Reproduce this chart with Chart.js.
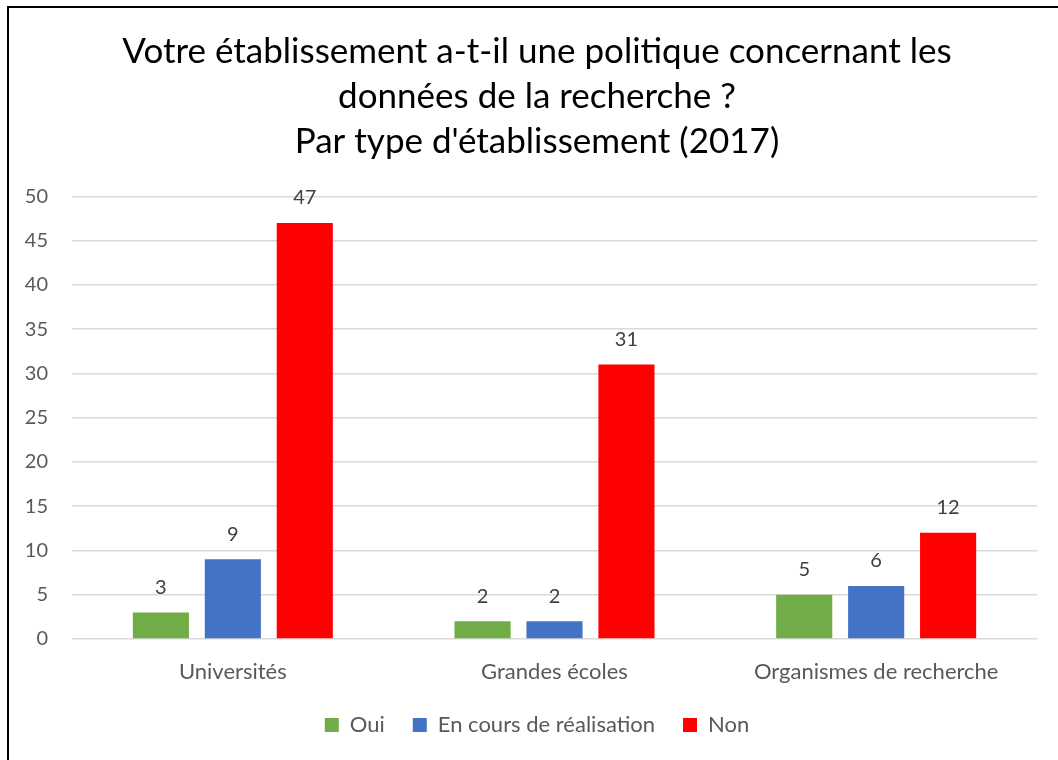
<!DOCTYPE html>
<html>
<head>
<meta charset="utf-8">
<script src="https://cdn.jsdelivr.net/npm/chart.js@4/dist/chart.umd.min.js"></script>
<style>
  html, body { margin: 0; padding: 0; background: #ffffff; }
  #wrap { position: relative; width: 1058px; height: 760px; overflow: hidden; }
  #frame {
    position: absolute; left: 7px; top: 6px; width: 1100px; height: 800px;
    border-left: 2px solid #000; border-top: 2px solid #000; pointer-events: none;
  }
</style>
</head>
<body>
<div id="wrap"><canvas id="c"></canvas><div id="frame"></div></div>
<script>
// Institution types on the x axis
const categories = ['Universités', 'Grandes écoles', 'Organismes de recherche'];
// Answers per institution type
const seriesNames = ['Oui', 'En cours de réalisation', 'Non'];
const oui = [3, 2, 5];
const enCours = [9, 2, 6];
const non = [47, 31, 12];
// Value axis
const yMin = 0;
const yMax = 50;
const yStep = 5;
const titleLines = [
  'Votre établissement a-t-il une politique concernant les',
  'données de la recherche ?',
  "Par type d'établissement (2017)"
];

const FONT = 'Lato';

// Writes each bar's value above it
const valueLabels = {
  id: 'valueLabels',
  afterDatasetsDraw(chart) {
    const ctx = chart.ctx;
    ctx.save();
    ctx.font = `20px ${FONT}`;
    ctx.fillStyle = '#404040';
    ctx.textAlign = 'center';
    ctx.textBaseline = 'middle';
    chart.data.datasets.forEach((ds, di) => {
      const meta = chart.getDatasetMeta(di);
      meta.data.forEach((bar, i) => {
        ctx.fillText(String(ds.data[i]), bar.x, bar.y - 25);
      });
    });
    ctx.restore();
  }
};

new Chart(document.getElementById('c'), {
  type: 'bar',
  data: {
    labels: categories,
    datasets: [
      { label: seriesNames[0], data: oui, backgroundColor: '#70AD47' },
      { label: seriesNames[1], data: enCours, backgroundColor: '#4472C4' },
      { label: seriesNames[2], data: non, backgroundColor: '#FF0000' }
    ]
  },
  options: {
    responsive: true,
    maintainAspectRatio: false,
    animation: false,
    datasets: { bar: { categoryPercentage: 0.671, barPercentage: 0.78 } },
    layout: { padding: { left: 16, right: 0, top: 0, bottom: 14 } },
    plugins: {
      title: {
        display: true,
        text: titleLines,
        color: '#000000',
        font: { family: FONT, size: 35, weight: 'normal', lineHeight: 1.29 },
        padding: { top: 29, bottom: 32 }
      },
      legend: {
        position: 'bottom',
        labels: {
          boxWidth: 14,
          boxHeight: 14,
          color: '#595959',
          font: { family: FONT, size: 22 },
          padding: 28
        }
      },
      tooltip: { enabled: false }
    },
    scales: {
      x: {
        grid: { display: false },
        border: { display: false },
        ticks: { color: '#595959', font: { family: FONT, size: 22 }, padding: 12 },
        afterFit(scale) { scale.height = 47; }
      },
      y: {
        min: yMin,
        max: yMax,
        ticks: { stepSize: yStep, color: '#595959', font: { family: FONT, size: 20 }, padding: 24 },
        grid: { color: '#d9d9d9', lineWidth: 1.5, drawTicks: false },
        border: { display: false },
        afterFit(scale) { scale.width = 56; }
      },
      yRight: {
        position: 'right',
        display: true,
        min: yMin,
        max: yMax,
        ticks: { display: false },
        grid: { display: false },
        border: { display: false },
        afterFit(scale) { scale.width = 21; }
      }
    }
  },
  plugins: [valueLabels]
});
</script>
</body>
</html>
